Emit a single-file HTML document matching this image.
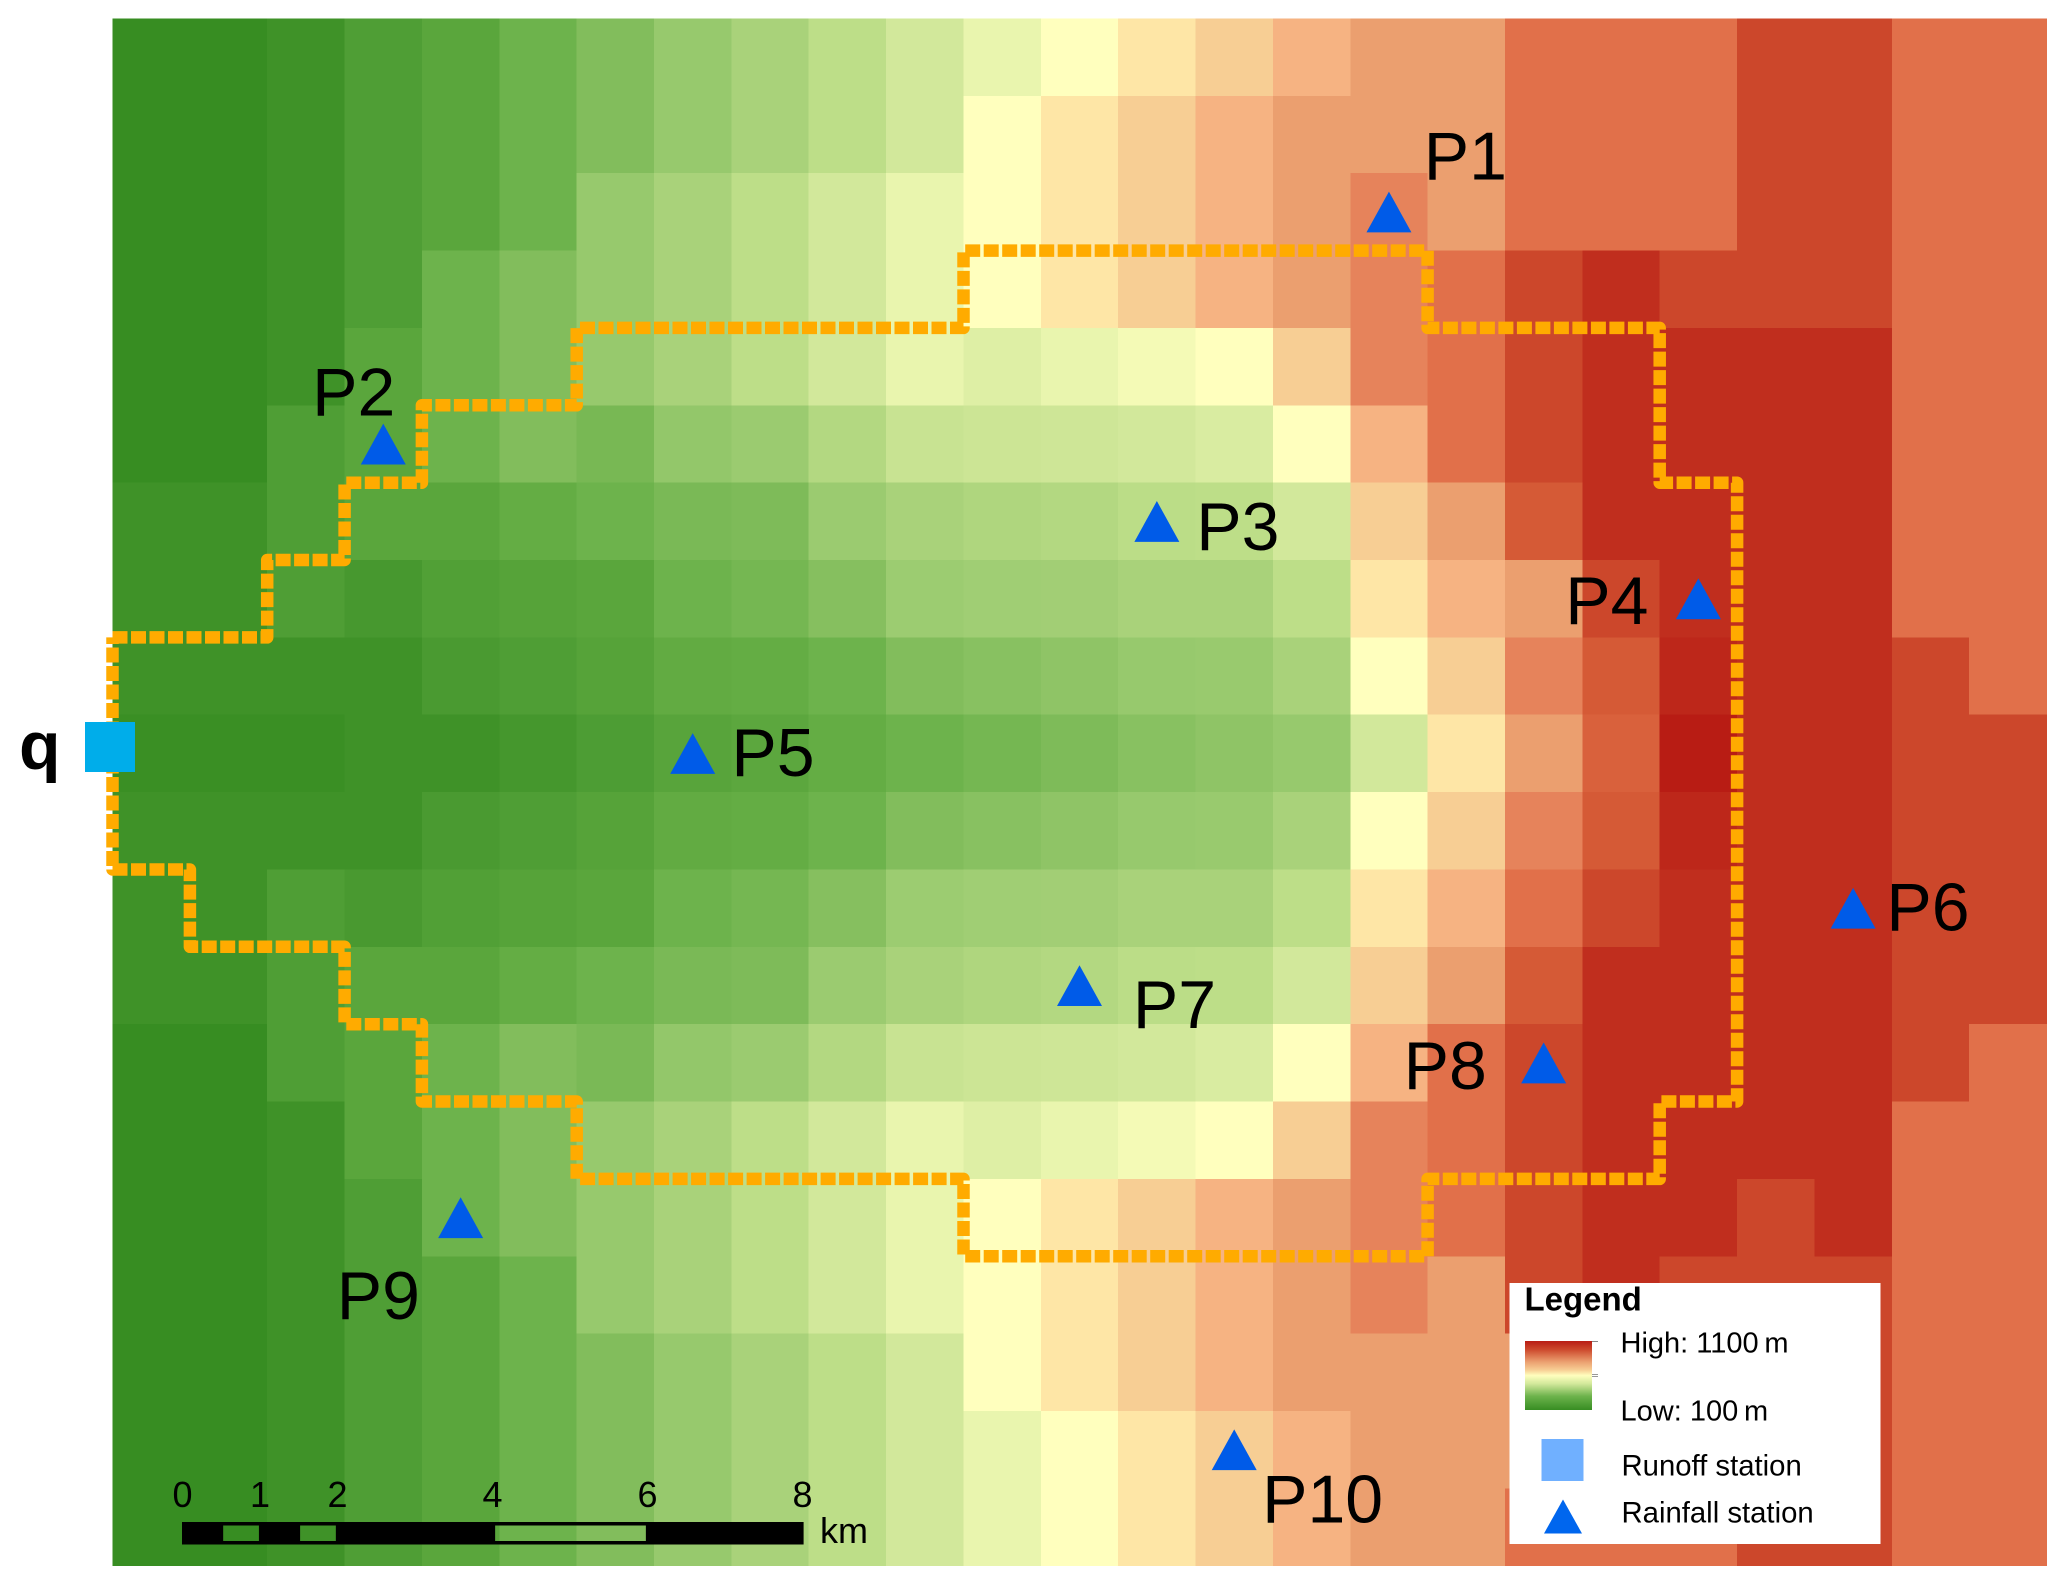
<!DOCTYPE html>
<html lang="en">
<head>
<meta charset="utf-8">
<title>Catchment elevation map</title>
<style>
html,body{margin:0;padding:0;background:#fff;width:2067px;height:1584px;overflow:hidden}
svg{display:block;font-family:"Liberation Sans",Arial,sans-serif}
</style>
</head>
<body>
<svg id="map" xmlns="http://www.w3.org/2000/svg" width="2067" height="1584" viewBox="0 0 2067 1584">
  <defs>
    <linearGradient id="ramp" x1="0" y1="0" x2="0" y2="1">
      <stop offset="0" stop-color="#b81c14"/>
      <stop offset="0.12" stop-color="#cc472b"/>
      <stop offset="0.3" stop-color="#eb9f6f"/>
      <stop offset="0.42" stop-color="#f7ce94"/>
      <stop offset="0.5" stop-color="#ffffbe"/>
      <stop offset="0.62" stop-color="#d2e89b"/>
      <stop offset="0.8" stop-color="#6db34c"/>
      <stop offset="1" stop-color="#378d22"/>
    </linearGradient>
  </defs>
  <g id="cells"></g>
  <path id="boundary" fill="none" stroke="#ffab00" stroke-width="12.5" stroke-dasharray="15 3.5" stroke-linejoin="round"></path>
  <rect x="85" y="722" width="50" height="50" fill="#00adea"/>
  <text x="19" y="769" font-size="68" font-weight="bold" fill="#000">q</text>
  <g id="stations"></g>
  <g id="scalebar">
    <path id="scale-body" fill="#000" fill-rule="evenodd"></path>
    <g id="scale-ticks"></g>
    <text x="820" y="1543" font-size="36" fill="#000">km</text>
  </g>
  <g>
    <rect x="1509.5" y="1283" width="371" height="261" fill="#fff"/>
    <text x="1524.5" y="1310.5" font-size="33" font-weight="bold" fill="#000">Legend</text>
    <rect x="1525" y="1341" width="67" height="69" fill="url(#ramp)"/>
    <rect x="1592" y="1341" width="6" height="1" fill="#888"/>
    <rect x="1592" y="1374" width="6" height="1" fill="#999"/>
    <rect x="1592" y="1376" width="6" height="1" fill="#999"/>
    <text x="1620.5" y="1352.5" font-size="29" fill="#000">High: 1100&#8201;m</text>
    <text x="1620.5" y="1420.5" font-size="29" fill="#000">Low: 100&#8201;m</text>
    <rect x="1541.5" y="1439" width="42" height="42" fill="#70b0ff"/>
    <text x="1621.5" y="1475.5" font-size="29.3" fill="#000">Runoff station</text>
    <polygon points="1563,1499.5 1582,1533.5 1544,1533.5" fill="#0066ee"/>
    <text x="1621.5" y="1522.5" font-size="29.3" fill="#000">Rainfall station</text>
  </g>
</svg>
<script>
// Elevation class of every raster cell (0 = lowest, 21 = highest), one array per row.
const elevationRows = [
  [0,0,1,2,3,4,5,6,7,8,9,10,11,12,13,14,15,15,17,17,17,19,19,17,17],
  [0,0,1,2,3,4,5,6,7,8,9,11,12,13,14,15,15,15,17,17,17,19,19,17,17],
  [0,0,1,2,3,4,6,7,8,9,10,11,12,13,14,15,16,15,17,17,17,19,19,17,17],
  [0,0,1,2,4,5,6,7,8,9,10,11,12,13,14,15,16,17,19,20,19,19,19,17,17],
  [0,0,1,3,4,5,6,7,8,9,10,9.5,10,10.5,11,13,16,17,19,20,20,20,20,17,17],
  [0,0,2,3,4,5,4.5,5.8,6.2,7.5,8.5,8.7,8.8,9,9.3,11,14,17,19,20,20,20,20,17,17],
  [1,1,2,3,3,3.5,4,4.6,4.8,6.2,7,7.3,7.5,7.9,8,9,13,15,18,20,20,20,20,17,17],
  [1,1,2,1.5,2.2,2.6,3,4,4.4,5.2,6.3,6.5,6.6,7,7,8,12,14,15,19,20,20,20,17,17],
  [1,1,1,1,1.7,2,2.6,3.4,3.5,4,5,5.3,5.6,6,6.1,7,11,13,16,18,20.4,20,20,19,17],
  [0.4,0.4,0.4,1,1,1.4,1.9,2.8,3.1,3.5,4,4.4,4.8,5.3,5.6,6,9,12,15,17.7,21,20,20,19,19],
  [1,1,1,1,1.7,2,2.6,3.4,3.5,4,5,5.3,5.6,6,6.1,7,11,13,16,18,20.4,20,20,19,19],
  [1,1,2,1.6,2.2,2.6,3,4,4.4,5.2,6.3,6.5,6.6,7,7,8,12,14,17,19,20,20,20,19,19],
  [1,1,2,3,3,3.5,4,4.6,4.8,6.2,7,7.3,7.5,7.9,8,9,13,15,18,20,20,20,20,19,19],
  [0,0,2,3,4,5,4.6,5.8,6.2,7.5,8.5,8.7,8.8,9,9.3,11,14,17,19,20,20,20,20,19,17],
  [0,0,1,3,4,5,6,7,8,9,10,9.5,10,10.5,11,13,16,17,19,20,20,20,20,17,17],
  [0,0,1,2,4,5,6,7,8,9,10,11,12,13,14,15,16,17,19,20,20,19,20,17,17],
  [0,0,1,2,3,4,6,7,8,9,10,11,12,13,14,15,16,15,19,20,19,19,19,17,17],
  [0,0,1,2,3,4,5,6,7,8,9,11,12,13,14,15,15,15,15,19,19,19,19,17,17],
  [0,0,1,2,3,4,5,6,7,8,9,10,11,12,13,14,15,15,15,19,19,19,19,17,17],
  [0,0,1,2,3,4,5,6,7,8,9,10,11,12,13,14,15,15,17,17,17,19,19,17,17]
];
const classColors = ["#378d22","#3f9228","#4f9e35","#5aa63c","#6db34c","#82bd5c","#97c96d","#a9d27a","#bdde88","#d2e89b","#e9f5ae","#ffffbe","#fee6a6","#f7ce94","#f6b382","#eb9f6f","#e6835b","#e1704a","#d55a36","#cc472b","#c02e1e","#b81c14"];

// Catchment boundary vertices, in grid columns / rows.
const boundaryCols = [0,2,2,3,3,4,4,6,6,11,11,17,17,20,20,21,21,20,20,17,17,11,11,6,6,4,4,3,3,1,1,0,0];
const boundaryRows = [8,8,7,7,6,6,5,5,4,4,3,3,4,4,6,6,14,14,15,15,16,16,15,15,14,14,13,13,12,12,11,11,8];

// Rainfall stations: the grid cell holding each one, and where its label sits.
const stationNames = ["P1","P2","P3","P4","P5","P6","P7","P8","P9","P10"];
const stationCols = [16,3,13,20,7,22,12,18,4,14];
const stationRows = [2,5,6,7,9,11,12,13,15,18];
const labelCols = [16.95,2.58,14.01,18.78,8.00,22.93,13.19,16.69,2.90,14.86];
const labelRows = [2.08,5.13,6.87,7.83,9.79,11.79,13.05,13.84,16.81,19.44];

// Scale bar, in kilometres.
const scaleTickLabels = [0,1,2,4,6,8];
const scaleWindowStarts = [0.53,1.52,4.03];
const scaleWindowEnds = [0.99,1.98,5.97];

const GRID_X0 = 112.5, GRID_Y0 = 18.5, CELL = 77.36;
const xScale = c => GRID_X0 + c * CELL;
const yScale = r => GRID_Y0 + r * CELL;
const kmScale = k => 182 + k * 77.7;
const kmTickScale = k => 182.5 + k * 77.5;
const NS = "http://www.w3.org/2000/svg";

function hexToRgb(h){return [1,3,5].map(i=>parseInt(h.substr(i,2),16));}
function classColor(v){
  const t = Math.max(0, Math.min(classColors.length - 1, v));
  const i = Math.floor(t), j = Math.min(classColors.length - 1, i + 1), f = t - i;
  const a = hexToRgb(classColors[i]), b = hexToRgb(classColors[j]);
  return "rgb(" + a.map((x,k)=>Math.round(x + (b[k]-x)*f)).join(",") + ")";
}

const cellsGroup = document.getElementById("cells");
elevationRows.forEach((row, r) => {
  row.forEach((v, c) => {
    const el = document.createElementNS(NS, "rect");
    el.setAttribute("x", xScale(c).toFixed(2));
    el.setAttribute("y", yScale(r).toFixed(2));
    el.setAttribute("width", CELL + 0.3);
    el.setAttribute("height", CELL + 0.3);
    el.setAttribute("fill", classColor(v));
    el.setAttribute("shape-rendering", "crispEdges");
    
    
    cellsGroup.appendChild(el);
  });
});

document.getElementById("boundary").setAttribute("d",
  boundaryCols.map((c,i)=>(i?"L":"M")+xScale(c).toFixed(1)+" "+yScale(boundaryRows[i]).toFixed(1)).join(" "));

const stationsGroup = document.getElementById("stations");
stationNames.forEach((name, i) => {
  const cx = xScale(stationCols[i] + 0.5), cy = yScale(stationRows[i] + 0.5);
  const tri = document.createElementNS(NS, "polygon");
  tri.setAttribute("points", cx+","+(cy-20.3)+" "+(cx+22.5)+","+(cy+20.5)+" "+(cx-22.5)+","+(cy+20.5));
  tri.setAttribute("fill", "#005be8");
  
  
  stationsGroup.appendChild(tri);
  const lab = document.createElementNS(NS, "text");
  lab.setAttribute("x", xScale(labelCols[i]).toFixed(1));
  lab.setAttribute("y", yScale(labelRows[i]).toFixed(1));
  lab.setAttribute("font-size", "68");
  lab.setAttribute("fill", "#000");
  lab.textContent = name;
  
  
  stationsGroup.appendChild(lab);
});

let scalePath = "M"+kmScale(0)+" 1522 H"+kmScale(8)+" V1544.5 H"+kmScale(0)+" Z";
scaleWindowStarts.forEach((s,i)=>{
  scalePath += " M"+kmScale(s)+" 1525.5 H"+kmScale(scaleWindowEnds[i])+" V1541 H"+kmScale(s)+" Z";
});
document.getElementById("scale-body").setAttribute("d", scalePath);

const tickGroup = document.getElementById("scale-ticks");
scaleTickLabels.forEach(k => {
  const t = document.createElementNS(NS, "text");
  t.setAttribute("x", kmTickScale(k));
  t.setAttribute("y", "1507");
  t.setAttribute("font-size", "36");
  t.setAttribute("text-anchor", "middle");
  t.setAttribute("fill", "#000");
  t.textContent = k;
  
  
  tickGroup.appendChild(t);
});
</script>
</body>
</html>
